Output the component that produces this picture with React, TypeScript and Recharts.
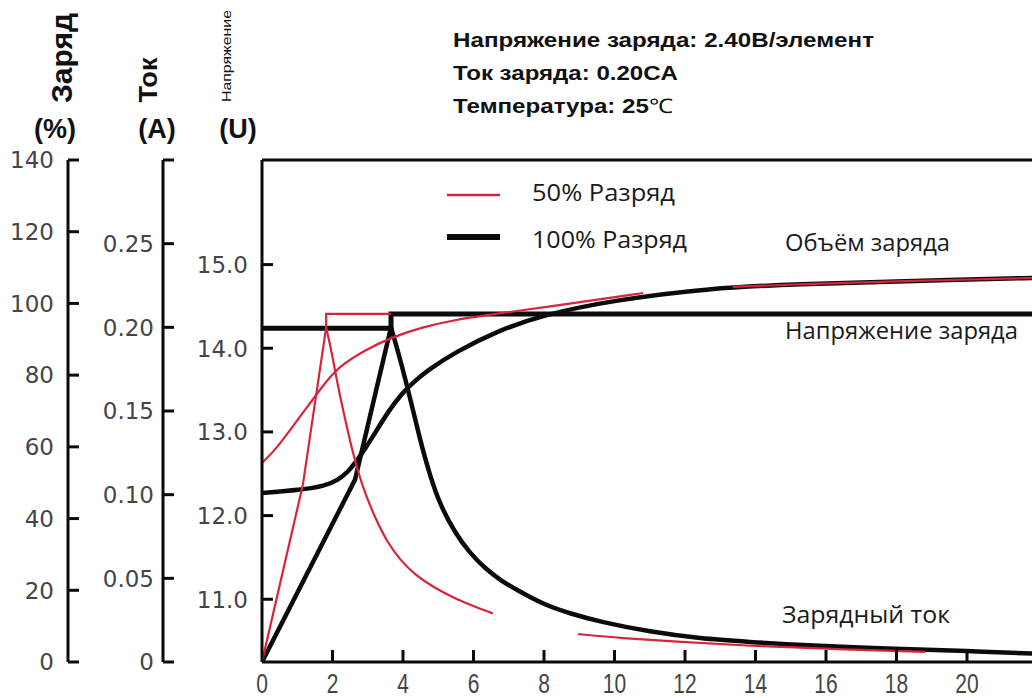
import React from 'react';
import { LineChart, Line, XAxis, YAxis, ReferenceLine } from 'recharts';

// оси
const hourTicks = [0, 2, 4, 6, 8, 10, 12, 14, 16, 18, 20];
const pctTicks = [0, 20, 40, 60, 80, 100, 120, 140];
const pctLabels = ['0', '20', '40', '60', '80', '100', '120', '140'];
const ampTicks = [0, 0.05, 0.1, 0.15, 0.2, 0.25, 0.3];
const ampLabels = ['0', '0.05', '0.10', '0.15', '0.20', '0.25', ''];
const voltTicks = [11, 12, 13, 14, 15];
const voltLabels = ['11.0', '12.0', '13.0', '14.0', '15.0'];

// 100% разряд
const voltTime100 = [0, 3.66, 3.66, 24];
const volt100 = [14.24, 14.24, 14.41, 14.41];
const chargeTime100 = [0, 1.08, 1.79, 2.16, 2.44, 2.64, 2.92, 3.21, 3.57, 3.97, 4.34, 4.71, 5.48, 6.67, 7.97, 9.96, 12.71, 15.26, 18.1, 21.84, 24];
const charge100 = [47.1, 48.0, 49.1, 50.8, 53.0, 55.5, 59.4, 63.9, 69.7, 75.0, 78.4, 81.4, 86.4, 92.3, 96.8, 100.9, 104.3, 105.4, 106.2, 107.1, 107.6];
const ampUpTime100 = [0, 2.64, 3.66];
const ampUp100 = [0, 0.109, 0.2];
const ampDownTime100 = [3.66, 3.92, 4.2, 4.48, 4.77, 5.05, 5.48, 5.9, 6.33, 6.75, 7.32, 8.03, 8.74, 9.59, 11.01, 12.43, 13.84, 15.26, 18.1, 20.0, 21.84, 24];
const ampDown100 = [0.2, 0.181, 0.158, 0.133, 0.111, 0.094, 0.077, 0.065, 0.056, 0.049, 0.042, 0.034, 0.029, 0.024, 0.018, 0.014, 0.012, 0.01, 0.0078, 0.0066, 0.0048, 0.0042];

// 50% разряд
const voltTime50 = [1.82, 1.82, 3.66];
const volt50 = [14.24, 14.41, 14.41];
const chargeTime50a = [0, 0.37, 0.74, 1.22, 1.7, 2.16, 2.92, 3.69, 4.54, 5.48, 6.18, 8.09, 10.81];
const charge50a = [55.5, 59.1, 63.9, 70.3, 76.7, 82.3, 87.0, 90.6, 93.4, 95.4, 96.5, 99.0, 102.9];
const chargeTime50b = [13.36, 15.26, 18.1, 21.84, 24];
const charge50b = [104.6, 105.4, 106.2, 107.1, 107.6];
const ampUpTime50 = [0, 1.16, 1.82];
const ampUp50 = [0, 0.106, 0.2];
const ampDownTime50a = [1.82, 1.99, 2.16, 2.36, 2.55, 2.84, 3.21, 3.57, 3.92, 4.34, 4.91, 5.48, 6.04, 6.55];
const ampDown50a = [0.2, 0.184, 0.164, 0.145, 0.127, 0.105, 0.086, 0.071, 0.061, 0.052, 0.044, 0.038, 0.033, 0.029];
const ampDownTime50b = [8.97, 10.16, 11.86, 13.84, 16.11, 18.81];
const ampDown50b = [0.0167, 0.0143, 0.012, 0.0096, 0.0078, 0.006];

const RED = '#d8243b';
const BLACK = '#0b0b0b';

const pairs = (ts: number[], vs: number[]) => ts.map((t, i) => ({ t, v: vs[i] }));

const series = [
  { key: 'volt100', axis: 0, color: BLACK, w: 5, curve: 'linear', data: pairs(voltTime100, volt100) },
  { key: 'charge100', axis: 2, color: BLACK, w: 4.5, curve: 'basis', data: pairs(chargeTime100, charge100) },
  { key: 'ampUp100', axis: 1, color: BLACK, w: 4.5, curve: 'linear', data: pairs(ampUpTime100, ampUp100) },
  { key: 'ampDown100', axis: 1, color: BLACK, w: 4.5, curve: 'basis', data: pairs(ampDownTime100, ampDown100) },
  { key: 'charge50a', axis: 2, color: RED, w: 2.2, curve: 'basis', data: pairs(chargeTime50a, charge50a) },
  { key: 'volt50', axis: 0, color: RED, w: 2.2, curve: 'linear', data: pairs(voltTime50, volt50) },
  { key: 'ampUp50', axis: 1, color: RED, w: 2.2, curve: 'linear', data: pairs(ampUpTime50, ampUp50) },
  { key: 'ampDown50a', axis: 1, color: RED, w: 2.2, curve: 'basis', data: pairs(ampDownTime50a, ampDown50a) },
  { key: 'ampDown50b', axis: 1, color: RED, w: 2.2, curve: 'basis', data: pairs(ampDownTime50b, ampDown50b) },
  { key: 'charge50b', axis: 2, color: RED, w: 2.2, curve: 'basis', data: pairs(chargeTime50b, charge50b) },
];

const makeYTick = (ticks: number[], labels: string[], gap: number) => (props: any) => {
  const { x, y, payload } = props;
  const i = ticks.findIndex((t) => Math.abs(t - payload.value) < 1e-9);
  return (
    <g>
      <line x1={x} x2={x + 11} y1={y} y2={y} stroke={BLACK} strokeWidth={3} />
      <text x={x - gap} y={y} dy="0.36em" textAnchor="end" fontFamily="'DejaVu Sans', sans-serif" fontSize={23} fill="#454545">
        {labels[i]}
      </text>
    </g>
  );
};

const renderXTick = (props: any) => {
  const { x, y, payload } = props;
  return (
    <g>
      {payload.value !== 0 && <line x1={x} x2={x} y1={y} y2={y - 12} stroke={BLACK} strokeWidth={3} />}
      <text transform={`translate(${x},${y + 21}) scale(0.75,1)`} dy="0.36em" textAnchor="middle" fontFamily="'Liberation Sans', Arial, sans-serif" fontSize={28} fill="#454545">
        {payload.value}
      </text>
    </g>
  );
};

const axisLine = { stroke: BLACK, strokeWidth: 3 };

export default function App() {
  return (
    <div style={{ position: 'absolute', left: 0, top: 0, width: 1032, height: 698, overflow: 'hidden', background: '#fff' }}>
      <LineChart width={1120} height={698} margin={{ top: 160, right: 12, bottom: 0, left: 0 }}>
        <XAxis dataKey="t" type="number" domain={[0, 24]} ticks={hourTicks} interval={0} height={36}
          axisLine={axisLine} tickLine={false} tickSize={0} tickMargin={0} tick={renderXTick} allowDataOverflow />
        <YAxis yAxisId={0} type="number" domain={[10.25, 16.25]} ticks={voltTicks} interval={0} width={99}
          axisLine={axisLine} tickLine={false} tickSize={0} tickMargin={0} tick={makeYTick(voltTicks, voltLabels, 14)} allowDataOverflow />
        <YAxis yAxisId={1} type="number" domain={[0, 0.3]} ticks={ampTicks} interval={0} width={95}
          axisLine={axisLine} tickLine={false} tickSize={0} tickMargin={0} tick={makeYTick(ampTicks, ampLabels, 9)} allowDataOverflow />
        <YAxis yAxisId={2} type="number" domain={[0, 140]} ticks={pctTicks} interval={0} width={68}
          axisLine={axisLine} tickLine={false} tickSize={0} tickMargin={0} tick={makeYTick(pctTicks, pctLabels, 14)} allowDataOverflow />
        <ReferenceLine yAxisId={0} y={16.25} stroke={BLACK} strokeWidth={3} ifOverflow="visible" />
        {series.map((s) => (
          <Line key={s.key} yAxisId={s.axis} data={s.data} dataKey="v" type={s.curve as any} stroke={s.color}
            strokeWidth={s.w} dot={false} activeDot={false} isAnimationActive={false} />
        ))}
      </LineChart>
      <svg width={1032} height={698} style={{ position: 'absolute', left: 0, top: 0, pointerEvents: 'none' }}>
        <g fontFamily="'Liberation Sans', Arial, sans-serif" fill="#111" fontWeight="bold">
          <text transform="translate(72,58) rotate(-90)" textAnchor="middle" fontSize={30} textLength={90} lengthAdjust="spacingAndGlyphs">Заряд</text>
          <text transform="translate(157,80) rotate(-90)" textAnchor="middle" fontSize={26} textLength={45} lengthAdjust="spacingAndGlyphs">Ток</text>
          <text x={55} y={138} textAnchor="middle" fontSize={27}>(%)</text>
          <text x={157} y={138} textAnchor="middle" fontSize={27}>(A)</text>
          <text x={238} y={138} textAnchor="middle" fontSize={27}>(U)</text>
          <text x={453} y={47} fontSize={20} textLength={421} lengthAdjust="spacingAndGlyphs">Напряжение заряда: 2.40В/элемент</text>
          <text x={453} y={80} fontSize={20} textLength={225} lengthAdjust="spacingAndGlyphs">Ток заряда: 0.20CA</text>
          <text x={453} y={113} fontSize={20} textLength={220} lengthAdjust="spacingAndGlyphs">
            Температура: 25<tspan fontWeight="normal">℃</tspan>
          </text>
        </g>
        <text transform="translate(231,56) rotate(-90)" textAnchor="middle" fontSize={12} fontFamily="'Liberation Sans', Arial, sans-serif" fill="#111" textLength={92} lengthAdjust="spacingAndGlyphs">Напряжение</text>
        <g fontFamily="'Open Sans', 'Noto Sans', sans-serif" fill="#1a1a1a" fontSize={23}>
          <line x1={447} x2={500} y1={195} y2={195} stroke={RED} strokeWidth={2.5} />
          <line x1={447} x2={500} y1={237} y2={237} stroke={BLACK} strokeWidth={6} />
          <text x={532} y={201} textLength={143} lengthAdjust="spacingAndGlyphs">50% Разряд</text>
          <text x={532} y={248} textLength={155} lengthAdjust="spacingAndGlyphs">100% Разряд</text>
          <text x={785} y={251} textLength={165} lengthAdjust="spacingAndGlyphs">Объём заряда</text>
          <text x={785} y={339} textLength={233} lengthAdjust="spacingAndGlyphs">Напряжение заряда</text>
          <text x={782} y={623} textLength={168} lengthAdjust="spacingAndGlyphs">Зарядный ток</text>
        </g>
      </svg>
    </div>
  );
}
